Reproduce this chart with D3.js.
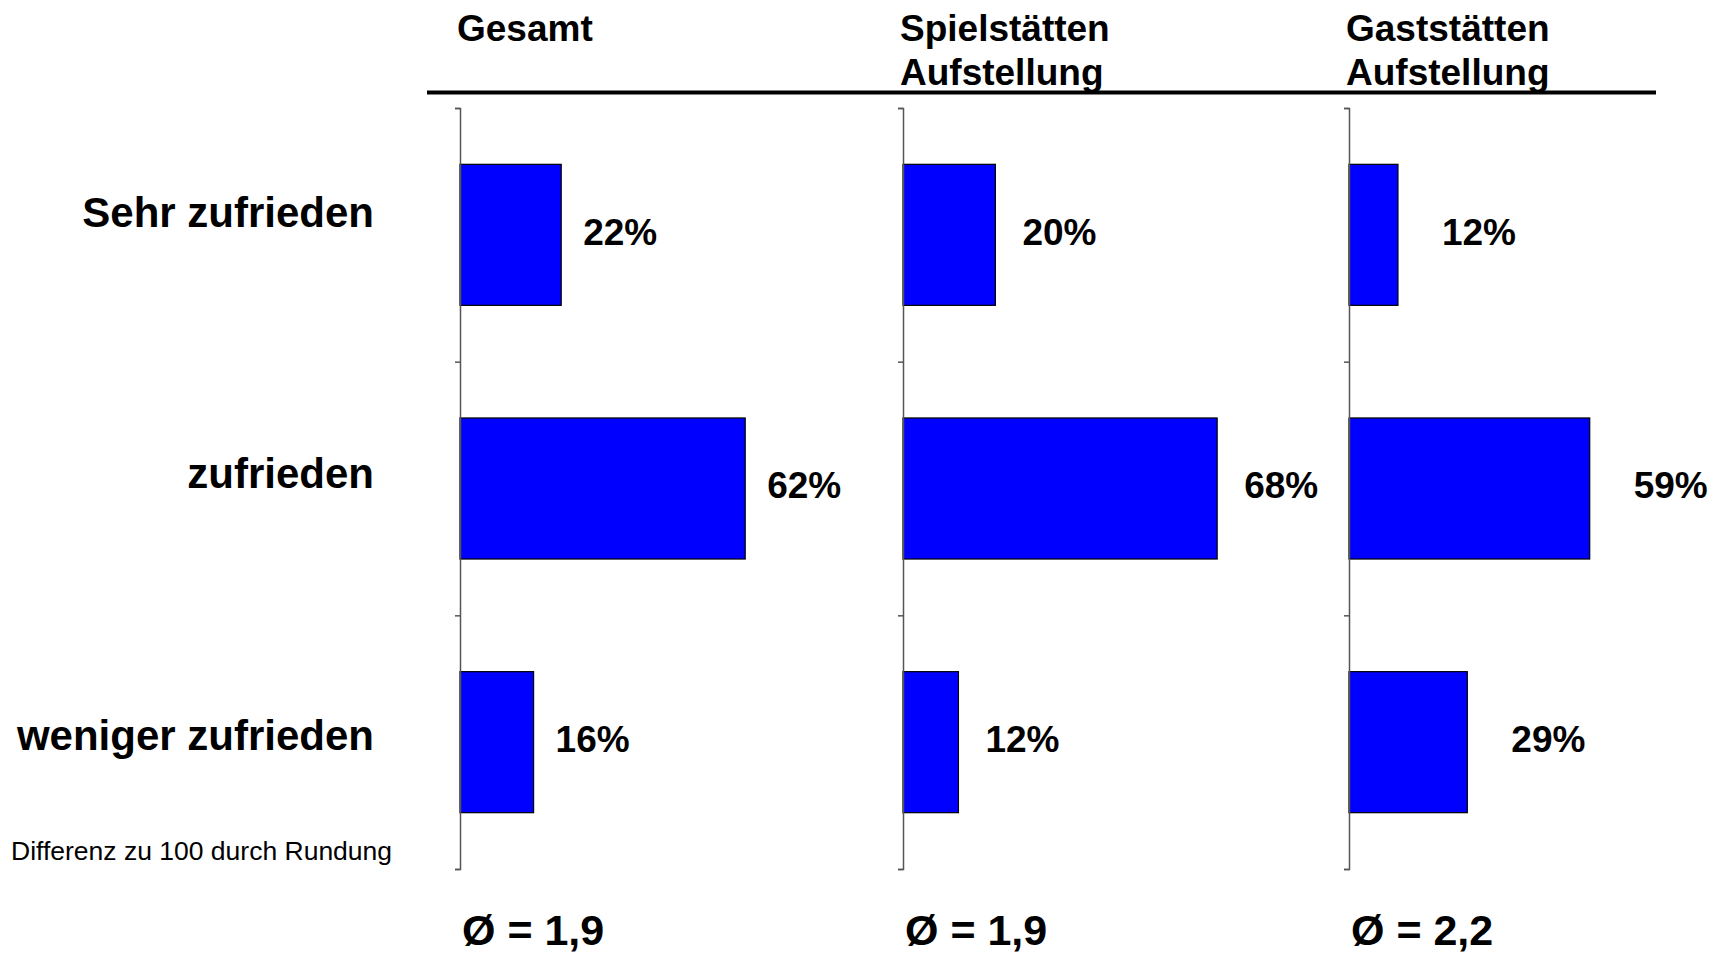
<!DOCTYPE html>
<html>
<head>
<meta charset="utf-8">
<script src="https://cdn.jsdelivr.net/npm/d3@7"></script>
<style>
    body { margin: 0; background: #fff; }
    text { font-family: "Liberation Sans", Arial, sans-serif; fill: #000; }
</style>
</head>
<body>
<div id="chart-container"></div>
<script>
const categories = ["Sehr zufrieden", "zufrieden", "weniger zufrieden"];
const panelTitles = [["Gesamt"], ["Spielstätten", "Aufstellung"], ["Gaststätten", "Aufstellung"]];
const valuesGesamt = [22, 62, 16];
const valuesSpielstaetten = [20, 68, 12];
const valuesGaststaetten = [12, 59, 29];
const averages = ["1,9", "1,9", "2,2"];
const footnote = "Differenz zu 100 durch Rundung";

const width = 1722;
const height = 953;
const plotTop = 108;
const plotBottom = 869;
// left edge, length of 100% and label gap for each panel
const panels = [
    {x: 460, full: 460, gap: 22},
    {x: 903, full: 462, gap: 27},
    {x: 1349, full: 408, gap: 44}
];

const series = [valuesGesamt, valuesSpielstaetten, valuesGaststaetten];

const svg = d3.select("#chart-container").append("svg")
    .attr("width", width)
    .attr("height", height);

const y = d3.scaleBand()
    .domain(categories)
    .range([plotTop, plotBottom])
    .paddingInner(0.444)
    .paddingOuter(0.222);

const yTicks = d3.scaleLinear()
    .domain([0, categories.length])
    .range([plotTop, plotBottom]);

const yLabel = d3.scalePoint()
    .domain(categories)
    .range([212, 735]);

// category labels
svg.append("g")
    .selectAll("text")
    .data(categories)
    .join("text")
    .attr("x", 374)
    .attr("y", d => yLabel(d))
    .attr("dy", "0.35em")
    .attr("text-anchor", "end")
    .style("font-size", "42px")
    .style("font-weight", "bold")
    .text(d => d);

// header rule
svg.append("line")
    .attr("x1", 427)
    .attr("x2", 1656)
    .attr("y1", 92.5)
    .attr("y2", 92.5)
    .attr("stroke", "#000")
    .attr("stroke-width", 4);

panels.forEach((p, i) => {
    const x = d3.scaleLinear()
        .domain([0, 100])
        .range([p.x, p.x + p.full]);

    const g = svg.append("g");

    // title
    const title = g.append("text")
        .attr("x", p.x - 3)
        .attr("y", 41)
        .style("font-size", "37px")
        .style("font-weight", "bold");
    title.selectAll("tspan")
        .data(panelTitles[i])
        .join("tspan")
        .attr("x", p.x - 3)
        .attr("dy", (d, j) => j === 0 ? 0 : 44)
        .text(d => d);

    // bars
    g.selectAll("rect")
        .data(series[i])
        .join("rect")
        .attr("x", x(0))
        .attr("y", (d, j) => y(categories[j]))
        .attr("width", d => x(d) - x(0))
        .attr("height", y.bandwidth())
        .attr("fill", "#0000ff")
        .attr("stroke", "#000")
        .attr("stroke-width", 1.2);

    // axis
    const axis = d3.axisLeft(yTicks)
        .tickValues(d3.range(categories.length + 1))
        .tickSize(5)
        .tickSizeOuter(5)
        .tickFormat("");
    const ax = g.append("g")
        .attr("transform", `translate(${p.x}, 0)`)
        .call(axis);
    ax.selectAll("path, line")
        .attr("stroke", "#555")
        .attr("stroke-width", 1.5);

    // value labels
    g.selectAll("text.value")
        .data(series[i])
        .join("text")
        .attr("class", "value")
        .attr("x", d => x(d) + p.gap)
        .attr("y", (d, j) => y(categories[j]) + y.bandwidth() / 2 - 3)
        .attr("dy", "0.35em")
        .style("font-size", "37px")
        .style("font-weight", "bold")
        .text(d => d + "%");

    // average
    g.append("text")
        .attr("x", p.x + 2)
        .attr("y", 945)
        .style("font-size", "43px")
        .style("font-weight", "bold")
        .text("Ø = " + averages[i]);
});

svg.append("text")
    .attr("x", 11)
    .attr("y", 860)
    .style("font-size", "26.5px")
    .text(footnote);
</script>
</body>
</html>
